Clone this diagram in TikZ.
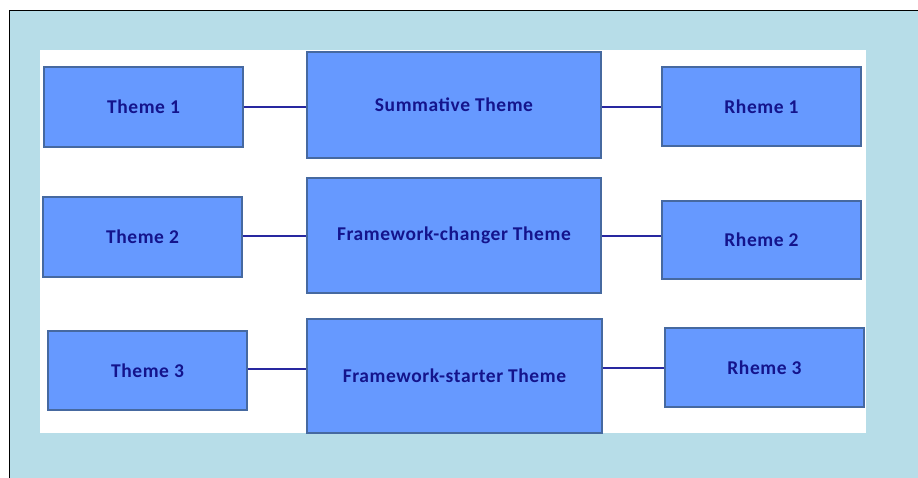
\documentclass[tikz,border=0pt]{standalone}
\usepackage{fontspec}
\setmainfont{Carlito}
\newfontfamily\boxfont[LetterSpace=3]{Carlito}
\usepackage{tikz}
\usetikzlibrary{positioning,calc}

\definecolor{frameblue}{RGB}{183,221,232}
\definecolor{boxfill}{RGB}{102,153,255}
\definecolor{boxline}{RGB}{70,105,160}
\definecolor{linkblue}{RGB}{40,40,160}
\definecolor{textblue}{RGB}{20,20,140}

\tikzset{
  part/.style={rectangle, fill=boxfill, draw=boxline, line width=1.6pt,
    text=textblue, font=\boxfont\fontsize{19.5}{22}\selectfont\bfseries,
    inner sep=0pt, minimum width=199pt, minimum height=80pt},
  midpart/.style={part, minimum width=294pt},
  link/.style={draw=linkblue, line width=2pt}
}

\begin{document}
\begin{tikzpicture}[x=1pt,y=-1pt]
\useasboundingbox (0,0) rectangle (918,477);
\begin{scope}
\clip (0,0) rectangle (918,477);
\draw[fill=frameblue, draw=black, line width=1pt] (9,10) rectangle (930,490);
\end{scope}
\fill[white] (40,50) rectangle (866,433);

\node[part] (th1) at (143.5,107) {Theme 1};
\node[midpart, minimum height=106pt] (mid1) at (454,105) {Summative Theme};
\node[part, minimum height=79pt] (rh1) at (761.5,106.5) {Rheme 1};

\node[part] (th2) at (142.5,237) {Theme 2};
\node[midpart, minimum height=115pt] (mid2) at (454,235.5) {Framework-changer Theme};
\node[part, minimum height=78pt] (rh2) at (761.5,240) {Rheme 2};

\node[part, minimum height=79pt] (th3) at (147.5,370.5) {Theme 3};
\node[midpart, minimum width=295pt, minimum height=114pt] (mid3) at (454.5,376) {Framework-starter Theme};
\node[part, minimum height=79pt] (rh3) at (764.5,367.5) {Rheme 3};

\draw[link] (th1.east) -- (th1.east -| mid1.west);
\draw[link] (mid1.east |- th1.east) -- (rh1.west |- th1.east);
\draw[link] (th2.east |- mid2.east) -- (mid2.west);
\draw[link] (mid2.east) -- (rh2.west |- mid2.east);
\draw[link] ($(th3.east)+(0,-1.5)$) -- ($(th3.east -| mid3.west)+(0,-1.5)$);
\draw[link] (mid3.east |- rh3.west) -- (rh3.west);
\end{tikzpicture}
\end{document}
